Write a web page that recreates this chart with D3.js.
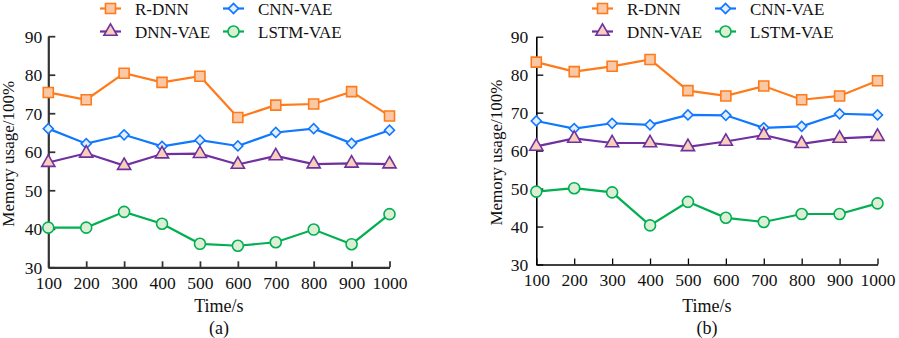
<!DOCTYPE html>
<html><head><meta charset="utf-8">
<script src="https://cdn.jsdelivr.net/npm/d3@7"></script>
<style>body{margin:0;background:#fff}svg{display:block}text{font-family:"Liberation Serif","Times New Roman",serif;fill:#111}</style>
</head><body><svg id="c" width="899" height="338"></svg>
<script>
const times = [100,200,300,400,500,600,700,800,900,1000];
const yTicks = [30,40,50,60,70,80,90];
const seriesNames = ["R-DNN","CNN-VAE","DNN-VAE","LSTM-VAE"];
// panel (a)
const aRDNN = [75.4,73.5,80.4,78.0,79.6,68.9,72.1,72.4,75.6,69.3];
const aCNN  = [66.0,62.1,64.4,61.4,63.0,61.5,65.0,66.0,62.2,65.6];
const aDNN  = [57.2,59.6,56.4,59.4,59.5,56.7,58.9,56.8,57.0,56.8];
const aLSTM = [40.3,40.3,44.4,41.3,36.1,35.6,36.5,39.8,36.0,43.8];
// panel (b)
const bRDNN = [83.3,80.8,82.2,84.0,75.8,74.4,77.0,73.4,74.4,78.4];
const bCNN  = [67.8,65.8,67.2,66.8,69.4,69.3,66.0,66.4,69.7,69.4];
const bDNN  = [61.1,63.2,62.0,62.0,61.0,62.4,64.1,61.8,63.2,63.7];
const bLSTM = [49.2,50.1,49.0,40.3,46.5,42.3,41.2,43.3,43.3,46.1];

const styles = {
  "R-DNN":   {stroke:"#ff7a1a", fill:"#fbc8a6", sym:d3.symbolSquare, size:100, rot:0},
  "CNN-VAE": {stroke:"#1078ff", fill:"#e3eeff", sym:d3.symbolSquare, size:50, rot:45},
  "DNN-VAE": {stroke:"#7030a0", fill:"#f6d0bb", sym:d3.symbolTriangle, size:75, rot:0},
  "LSTM-VAE":{stroke:"#00b050", fill:"#dcefd6", sym:d3.symbolCircle, size:95, rot:0}
};

const svg = d3.select("#c");

function panel(cfg){
  const g = svg.append("g");
  const x = d3.scaleLinear().domain([100,1000]).range([cfg.x0, cfg.x1]);
  const y = d3.scaleLinear().domain([30,90]).range([cfg.y0, cfg.y1]);
  const xa = g.append("g").attr("transform",`translate(0,${cfg.y0})`)
    .call(d3.axisBottom(x).tickValues(times).tickFormat(d3.format("d"))
      .tickSize(-6).tickPadding(13).tickSizeOuter(0));
  const ya = g.append("g").attr("transform",`translate(${cfg.x0},0)`)
    .call(d3.axisLeft(y).tickValues(yTicks).tickFormat(d3.format("d"))
      .tickSize(-7).tickPadding(cfg.ypad).tickSizeOuter(0));
  [xa,ya].forEach(a=>{
    a.select(".domain").attr("stroke",cfg.axisColor).attr("stroke-width",cfg.axisW);
    a.selectAll(".tick line").attr("stroke",cfg.axisColor).attr("stroke-width",cfg.axisW*0.8);
    a.selectAll(".tick text").attr("font-size",17.5).attr("fill","#111")
      .style("font-family",'"Liberation Serif",serif');
  });
  xa.selectAll(".tick text").attr("dy","0.5em");
  ya.selectAll(".tick text").attr("dy","0.35em");
  cfg.data.forEach((vals,i)=>{
    const st = styles[seriesNames[i]];
    const line = d3.line().x((d,j)=>x(times[j])).y(d=>y(d));
    g.append("path").datum(vals).attr("d",line).attr("fill","none")
      .attr("stroke",st.stroke).attr("stroke-width",2.2);
    g.selectAll(null).data(vals).enter().append("path")
      .attr("d",d3.symbol().type(st.sym).size(st.size))
      .attr("transform",(d,j)=>`translate(${x(times[j])},${y(d)}) rotate(${st.rot})`)
      .attr("fill",st.fill).attr("stroke",st.stroke).attr("stroke-width",1.6);
  });
  g.append("text").attr("x",(cfg.x0+cfg.x1)/2).attr("y",312).attr("text-anchor","middle")
    .attr("font-size",18).text("Time/s");
  g.append("text").attr("x",(cfg.x0+cfg.x1)/2).attr("y",334).attr("text-anchor","middle")
    .attr("font-size",18).text(cfg.label);
  g.append("text").attr("transform",`translate(${cfg.ytx},${(cfg.y0+cfg.y1)/2+2}) rotate(-90)`)
    .attr("text-anchor","middle").attr("font-size",17).text("Memory usage/100%");
  const pos = [[0,0],[1,0],[0,1],[1,1]];
  seriesNames.forEach((n,i)=>{
    const st = styles[n];
    const lx = cfg.lx + pos[i][0]*123, ly = 8.5 + pos[i][1]*23;
    g.append("line").attr("x1",lx).attr("x2",lx+21).attr("y1",ly).attr("y2",ly)
      .attr("stroke",st.stroke).attr("stroke-width",2.2);
    g.append("path").attr("d",d3.symbol().type(st.sym).size(st.size))
      .attr("transform",`translate(${lx+10.5},${ly}) rotate(${st.rot})`)
      .attr("fill",st.fill).attr("stroke",st.stroke).attr("stroke-width",1.6);
    g.append("text").attr("x",lx+35).attr("y",ly+6.5).attr("font-size",17).text(n);
  });
}

panel({x0:48.3,x1:389.5,y0:267.3,y1:36.2,data:[aRDNN,aCNN,aDNN,aLSTM],label:"(a)",
  axisColor:"#333",axisW:2.2,ypad:6,ytx:14,lx:100});
panel({x0:536.3,x1:877.5,y0:264.5,y1:36.7,data:[bRDNN,bCNN,bDNN,bLSTM],label:"(b)",
  axisColor:"#000",axisW:1.6,ypad:8,ytx:502,lx:592});
</script></body></html>
